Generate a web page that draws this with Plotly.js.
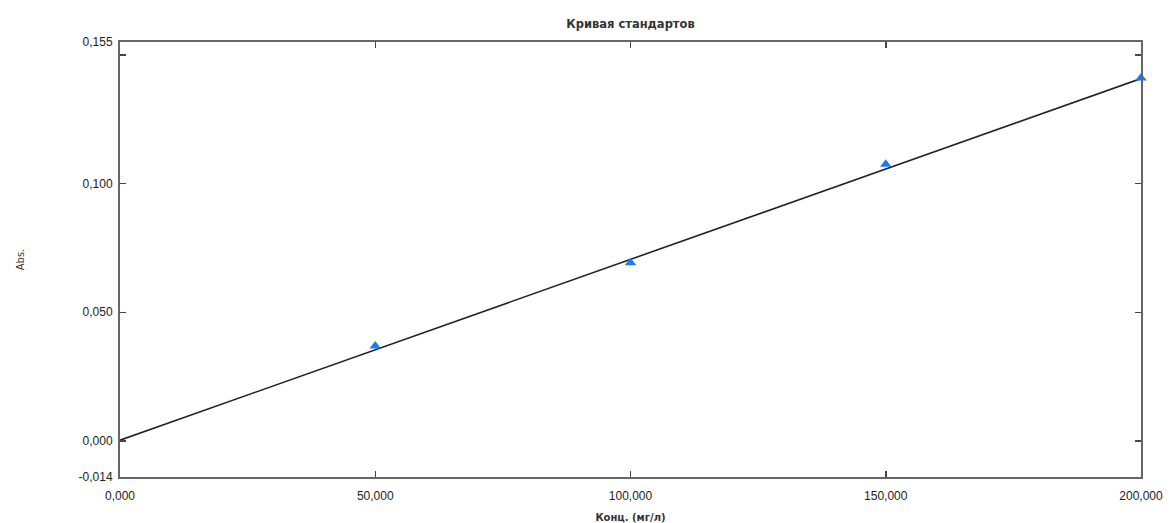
<!DOCTYPE html>
<html><head><meta charset="utf-8">
<script src="https://cdn.plot.ly/plotly-3.0.1.min.js"></script>
<style>html,body{margin:0;padding:0;background:#fff}#chart{width:1170px;height:523px}</style>
</head><body><div id="chart"></div>
<script>
const stdConc = [50000, 100000, 150000, 200000];
const stdAbs = [0.0369, 0.0692, 0.1075, 0.1410];
const fitConc = [0, 200000];
const fitAbs = [0.0003, 0.1408];
const xTickVals = [0, 50000, 100000, 150000, 200000];
const xTickText = ['0,000', '50,000', '100,000', '150,000', '200,000'];
const yTickVals = [-0.014, 0, 0.05, 0.1, 0.15, 0.155];
const yTickText = ['-0,014', '0,000', '0,050', '0,100', '', '0,155'];

const traces = [
  {x: fitConc, y: fitAbs, mode: 'lines', line: {color: '#222', width: 1.6}, hoverinfo: 'skip', showlegend: false},
  {x: stdConc, y: stdAbs, mode: 'markers', marker: {symbol: 'triangle-up', size: 10, color: '#1a7cf5'}, showlegend: false, cliponaxis: false}
];
const fnt = {family: 'Liberation Sans, Arial, sans-serif', size: 12, color: '#222'};
const tfnt = {family: 'DejaVu Sans, sans-serif', size: 10, color: '#333'};
const layout = {
  width: 1170, height: 523,
  margin: {l: 120, r: 29, t: 42, b: 46},
  paper_bgcolor: '#fff', plot_bgcolor: '#fff',
  font: fnt,
  showlegend: false,
  title: {text: '<b>Кривая стандартов</b>', xref: 'paper', x: 0.5, xanchor: 'center', y: 0.955, yanchor: 'middle', font: {family: 'DejaVu Sans, sans-serif', size: 11.5, color: '#333'}},
  xaxis: {
    range: [0, 200000], tickmode: 'array', tickvals: xTickVals, ticktext: xTickText,
    ticks: 'inside', ticklen: 6, tickwidth: 1.5, tickcolor: '#444',
    showline: true, linecolor: '#666', linewidth: 2, mirror: 'ticks',
    showgrid: false, zeroline: false, tickfont: fnt, ticklabelstandoff: 7,
    title: {text: '<b>Конц. (мг/л)</b>', font: tfnt, standoff: 14}
  },
  yaxis: {
    range: [-0.014, 0.155], tickmode: 'array', tickvals: yTickVals, ticktext: yTickText,
    ticks: 'inside', ticklen: 6, tickwidth: 1.5, tickcolor: '#444',
    showline: true, linecolor: '#666', linewidth: 2, mirror: 'ticks',
    showgrid: false, zeroline: false, tickfont: fnt, ticklabelstandoff: 3,
    title: {text: 'Abs.', font: {family: 'DejaVu Sans, sans-serif', size: 10, color: '#333'}, standoff: 52}
  }
};
Plotly.newPlot('chart', traces, layout, {displayModeBar: false, staticPlot: true});
</script></body></html>
